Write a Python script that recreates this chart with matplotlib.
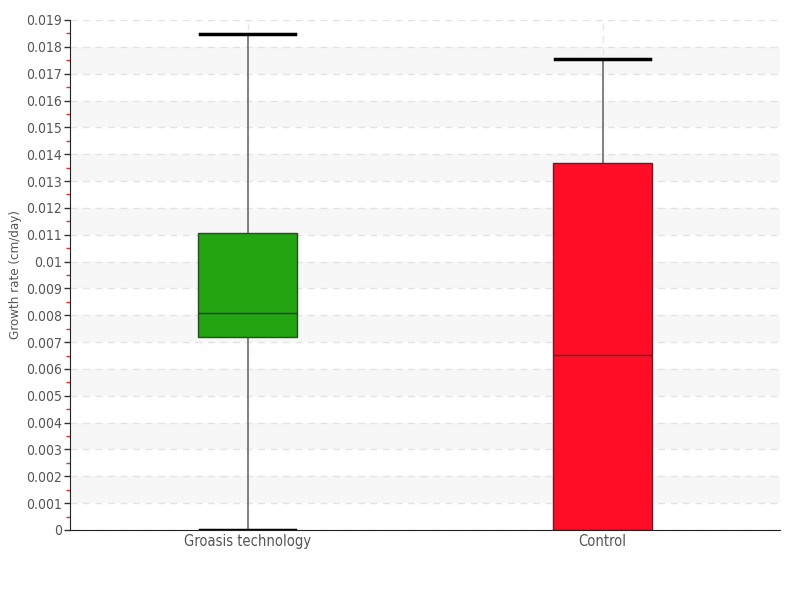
import matplotlib.pyplot as plt
from matplotlib.ticker import MultipleLocator

plt.rcParams['font.family'] = ['DejaVu Sans']
plt.rcParams['font.stretch'] = 'condensed'

categories = ["Groasis technology", "Control"]
whisker_low = [0.0, 0.0]
q1 = [0.00719, 0.0]
median = [0.00808, 0.00652]
q3 = [0.01107, 0.01367]
whisker_high = [0.01846, 0.01755]
colors = ["#22a511", "#ff0d26"]
edge_colors = ["#2a4a22", "#6e1a22"]

fig = plt.figure(figsize=(8, 6), dpi=100)
ax = fig.add_axes([0.0875, 0.1167, 0.8875, 0.85])

# alternating light bands
for lo in range(1, 19, 2):
    ax.axhspan(lo / 1000, (lo + 1) / 1000, color='#f7f7f7', zorder=0, lw=0)

stats = []
for i, name in enumerate(categories):
    stats.append({"label": name, "whislo": whisker_low[i], "q1": q1[i], "med": median[i],
                  "q3": q3[i], "whishi": whisker_high[i], "fliers": []})

bp = ax.bxp(stats, positions=range(len(categories)), widths=0.28, patch_artist=True,
            showfliers=False, capwidths=0.27,
            boxprops=dict(linewidth=1),
            medianprops=dict(color='#333333', linewidth=1),
            whiskerprops=dict(color='#777777', linewidth=1.3),
            capprops=dict(color='black', linewidth=2.5), zorder=3)
for patch, c, ec in zip(bp['boxes'], colors, edge_colors):
    patch.set_facecolor(c)
    patch.set_edgecolor(ec)
    patch.set_zorder(4)
for med in bp['medians']:
    med.set_zorder(5)
# caps come in (low, high) pairs; let the top ones overhang freely
for cap in bp['caps'][1::2]:
    cap.set_clip_on(False)

ax.set_xlim(-0.5, 1.5)
ax.set_ylim(0, 0.019)
ax.yaxis.set_major_locator(MultipleLocator(0.001))
ax.yaxis.set_minor_locator(MultipleLocator(0.0005))
ax.yaxis.set_major_formatter(plt.FuncFormatter(lambda y, _: "0" if abs(y) < 1e-12 else f"{round(y, 3):g}"))
ax.tick_params(axis='y', which='major', length=4, width=1, color='#333333', labelsize=10, labelcolor='#555555', pad=2)
ax.tick_params(axis='y', which='minor', length=3, width=1, color='#ff2020')
ax.tick_params(axis='x', length=0, labelsize=10.5, labelcolor='#555555', pad=3)

ax.grid(axis='y', which='major', linestyle=(0, (5, 4)), color='#e3e3e3', linewidth=1, zorder=1)
ax.grid(axis='x', which='major', linestyle=(0, (5, 4)), color='#e8e8e8', linewidth=1, zorder=1)
ax.set_axisbelow(True)
ax.spines['top'].set_visible(False)
ax.spines['right'].set_visible(False)
ax.spines['left'].set_color('#222222')
ax.spines['bottom'].set_color('#222222')
ax.spines['bottom'].set_zorder(6)

ax.set_ylabel("Growth rate (cm/day)", fontsize=9.5, color='#555555', labelpad=3)

fig.savefig("out.png", dpi=100)
